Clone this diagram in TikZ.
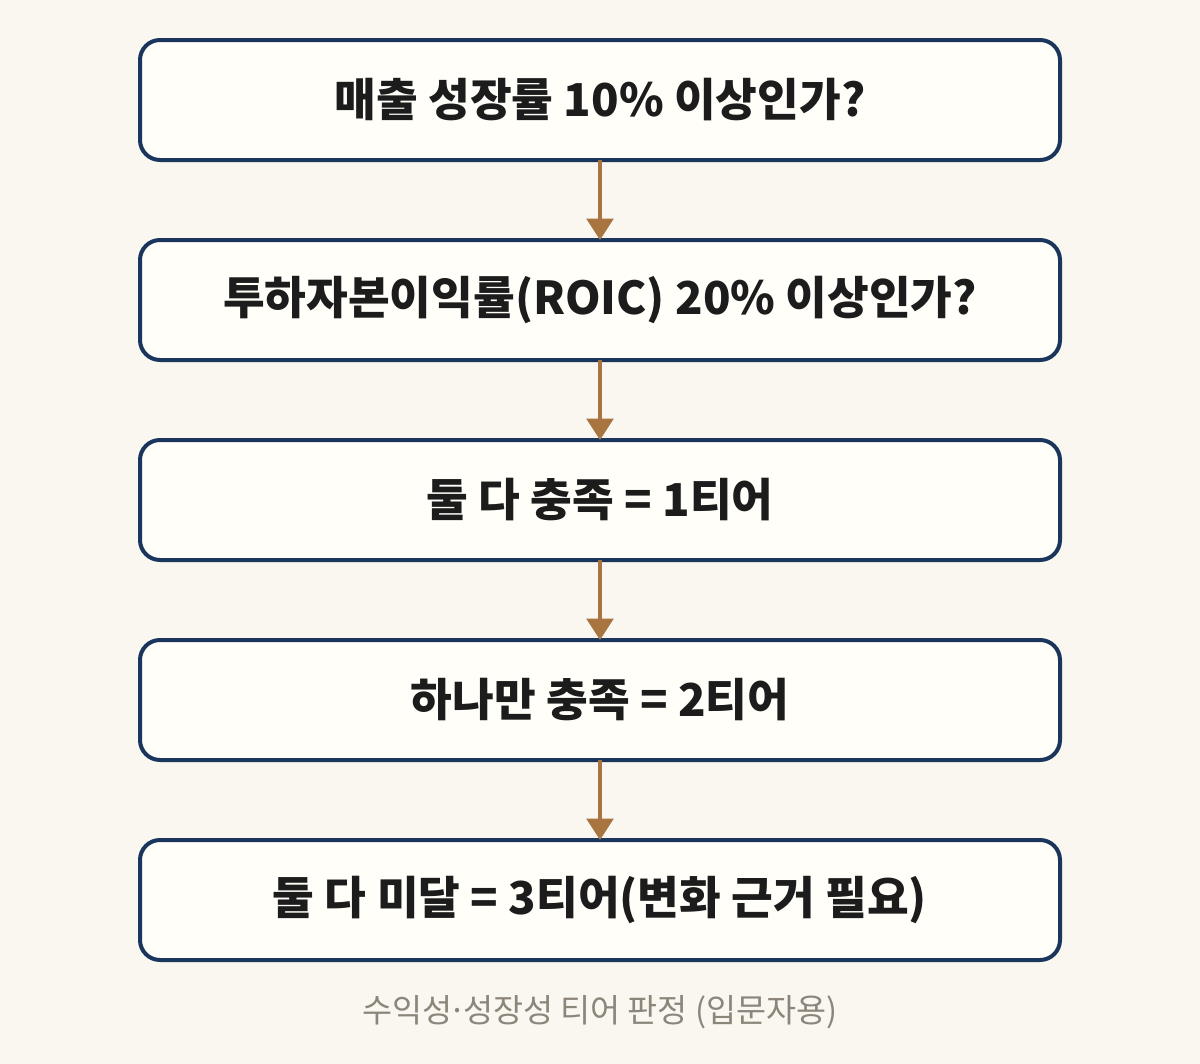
\documentclass[tikz,border=0pt]{standalone}
\usepackage{fontspec}
\setmainfont{Noto Sans CJK KR}
\usepackage{tikz}
\usetikzlibrary{arrows.meta,positioning}
\definecolor{pagebg}{HTML}{F9F7F0}
\definecolor{boxfill}{HTML}{FFFEF9}
\definecolor{boxline}{HTML}{1B365D}
\definecolor{arrowcol}{HTML}{A8743F}
\definecolor{textcol}{HTML}{1C1C1C}
\definecolor{notecol}{HTML}{8C857A}
\tikzstyle{tierbox} = [draw=boxline, fill=boxfill, line width=3pt, rounded corners=15pt,
    minimum width=690pt, minimum height=90pt, outer sep=0pt, text=textcol,
    font=\fontsize{34pt}{40pt}\selectfont\bfseries]
\tikzstyle{arrow}   = [draw=arrowcol, line width=2.4pt, -{Triangle[width=20pt,length=16pt]}]

\begin{document}
\begin{tikzpicture}[x=0.75pt,y=-0.75pt]
        \fill[pagebg] (0,0) rectangle (1200,1064);
        \useasboundingbox (0,0) rectangle (1200,1064);
        \node[tierbox] (N0) at (600,100) {매출 성장률 10\% 이상인가?};
        \node[tierbox, below=60pt of N0] (N1) {투하자본이익률(ROIC) 20\% 이상인가?};
        \node[tierbox, below=60pt of N1] (N2) {둘 다 충족 = 1티어};
        \node[tierbox, below=60pt of N2] (N3) {하나만 충족 = 2티어};
        \node[tierbox, below=60pt of N3] (N4) {둘 다 미달 = 3티어(변화 근거 필요)};
        \node[text=notecol, font=\fontsize{24.5pt}{29pt}\selectfont] (n0) at (600,1012)
            {수익성\kern-0.12em·\kern-0.12em성장성 티어 판정 (입문자용)};
        \foreach \a/\b in {N0/N1,N1/N2,N2/N3,N3/N4}
        {
            \draw[arrow] (\a.south) -- (\b.north);
        }
\end{tikzpicture}
\end{document}
